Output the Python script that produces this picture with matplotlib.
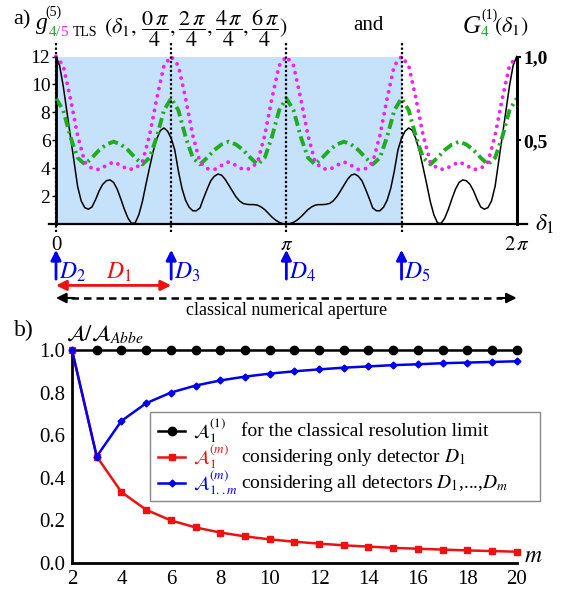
import numpy as np
import matplotlib.pyplot as plt
from matplotlib.patches import Rectangle
from matplotlib.lines import Line2D

plt.rcParams['font.family'] = ['Liberation Serif', 'DejaVu Serif']
plt.rcParams['mathtext.fontset'] = 'stix'

# ---- panel a ----
# black curve read every pi/64, pink and green every pi/32, from 0 to 2 pi
g5_black = [12, 11.35, 9.9, 8.1, 6.3, 4.5, 2.7, 1.65, 1.17, 1.06, 1.22, 1.75, 2.38, 2.85, 3.1, 3.16,
            2.98, 2.5, 1.8, 1.05, 0.42, 0.04, 0.08, 0.65, 1.6, 2.85, 4.05, 5.2, 6.1, 6.7, 6.88, 6.65,
            6.15, 5.3, 3.8, 2.55, 1.7, 1.2, 0.95, 0.95, 1.15, 1.85, 2.5, 3.1, 3.42, 3.58, 3.5, 3.2,
            2.78, 2.35, 1.95, 1.65, 1.47, 1.41, 1.39, 1.39, 1.35, 1.22, 1.03, 0.77, 0.5, 0.28, 0.12, 0.03,
            0.0,
            0.03, 0.12, 0.28, 0.5, 0.77, 1.03, 1.22, 1.35, 1.39, 1.39, 1.41, 1.47, 1.65, 1.95, 2.35, 2.78,
            3.2, 3.5, 3.58, 3.42, 3.1, 2.5, 1.85, 1.15, 0.95, 0.95, 1.2, 1.7, 2.55, 3.8, 5.3, 6.15,
            6.65, 6.88, 6.7, 6.1, 5.2, 4.05, 2.85, 1.6, 0.65, 0.08, 0.04, 0.42, 1.05, 1.8, 2.5, 2.98,
            3.16, 3.1, 2.85, 2.38, 1.75, 1.22, 1.06, 1.17, 1.65, 2.7, 4.5, 6.3, 8.1, 9.9, 11.35, 12]
g5_pink = [12, 11.35, 9.0, 6.35, 4.43, 3.97, 3.9, 4.2, 4.45, 4.2, 3.9, 3.97, 4.43, 6.35, 9.0, 11.35,
           12, 11.35, 9.0, 6.35, 4.43, 3.97, 3.9, 4.2, 4.45, 4.2, 3.9, 3.97, 4.43, 6.35, 9.0, 11.35,
           12, 11.35, 9.0, 6.35, 4.43, 3.97, 3.9, 4.2, 4.45, 4.2, 3.9, 3.97, 4.43, 6.35, 9.0, 11.35,
           12, 11.35, 9.0, 6.35, 4.43, 3.97, 3.9, 4.2, 4.45, 4.2, 3.9, 3.97, 4.43, 6.35, 9.0, 11.35, 12]
g1_green = [9.0, 8.15, 6.25, 4.75, 4.27, 4.75, 5.3, 5.7, 5.9, 5.7, 5.3, 4.75, 4.27, 4.75, 6.25, 8.15,
            9.0, 8.15, 6.25, 4.75, 4.27, 4.75, 5.3, 5.7, 5.9, 5.7, 5.3, 4.75, 4.27, 4.75, 6.25, 8.15,
            9.0, 8.15, 6.25, 4.75, 4.27, 4.75, 5.3, 5.7, 5.9, 5.7, 5.3, 4.75, 4.27, 4.75, 6.25, 8.15,
            9.0, 8.15, 6.25, 4.75, 4.27, 4.75, 5.3, 5.7, 5.9, 5.7, 5.3, 4.75, 4.27, 4.75, 6.25, 8.15, 9.0]
delta_black = np.linspace(0, 2 * np.pi, len(g5_black))
delta = np.linspace(0, 2 * np.pi, len(g5_pink))

det_pos = [0, np.pi / 2, np.pi, 3 * np.pi / 2]
det_labels = [r'$D_2$', r'$D_3$', r'$D_4$', r'$D_5$']

# ---- panel b ----
m_vals = list(range(2, 21))
a_classical = [1.0] * 19
a_only_d1 = [1.0, 0.5, 0.333, 0.25, 0.2, 0.167, 0.143, 0.125, 0.111, 0.1, 0.091, 0.083,
             0.077, 0.071, 0.067, 0.063, 0.059, 0.056, 0.053]
a_all = [1.0, 0.5, 0.667, 0.75, 0.8, 0.833, 0.857, 0.875, 0.889, 0.9, 0.909, 0.917,
         0.923, 0.929, 0.933, 0.938, 0.941, 0.944, 0.947]

W, H = 574, 595
fig = plt.figure(figsize=(W / 100, H / 100), dpi=100)


def fxy(x, y):
    return x / W, 1 - y / H


PINK = '#ee22ee'
GREEN = '#22aa22'
BLUE = '#0000ee'
RED = '#ee1111'

ax = fig.add_axes([56 / W, 1 - 224 / H, 460.7 / W, 167.5 / H])
ax.fill_between([0, 1.5 * np.pi], 0, 12, color='#c6e2fa', lw=0, zorder=0)
ax.plot(delta_black, g5_black, color='k', lw=1.1, clip_on=False, zorder=3)
ax.plot(delta, g1_green, color=GREEN, lw=2.8, ls=(0, (2.6, 1.1, 0.6, 1.1)), clip_on=False, zorder=4)
ax.plot(delta, g5_pink, color=PINK, lw=2.8, ls=(0, (0.01, 1.9)), dash_capstyle='round',
        clip_on=False, zorder=5)
for x in det_pos:
    ax.plot([x, x], [-0.6, 13.1], color='k', lw=1.6, ls=(0, (1, 1)), clip_on=False, zorder=6)

ax.set_xlim(0, 2 * np.pi)
ax.set_ylim(0, 12)
ax.set_facecolor('none')
for s in ['top', 'bottom']:
    ax.spines[s].set_visible(False)
ax.spines['left'].set_linewidth(2)
ax.spines['right'].set_linewidth(2)
ax.plot([-0.1, 2 * np.pi + 0.14], [0, 0], color='k', lw=1.6, clip_on=False, zorder=7)
ax.set_yticks([2, 4, 6, 8, 10, 12])
ax.tick_params(axis='y', labelsize=14, length=3, width=1, pad=1)
ax.set_xticks([0, np.pi, 2 * np.pi])
ax.set_xticklabels(['0', r'$\pi$', r'$2\,\pi$'])
ax.tick_params(axis='x', labelsize=15, length=0, pad=9)

ax2 = ax.twinx()
ax2.set_ylim(0, 1)
ax2.set_yticks([0.5, 1.0])
ax2.set_yticklabels(['0,5', '1,0'], fontweight='bold')
ax2.tick_params(axis='y', labelsize=14, length=3, width=1.5, pad=2)
for s in ['top', 'bottom', 'left']:
    ax2.spines[s].set_visible(False)
ax2.spines['right'].set_linewidth(2)

ax.text(2 * np.pi + 0.25, 0.0, r'$\delta_1$', fontsize=17, va='center', ha='left')

# detector arrows
for x, lab in zip(det_pos, det_labels):
    ax.annotate('', xy=(x, -1.85), xytext=(x, -3.95), annotation_clip=False,
                arrowprops=dict(arrowstyle='-|>', color=BLUE, lw=2, mutation_scale=15,
                                shrinkA=0, shrinkB=0))
    ax.text(x + 0.04, -3.45, lab, color=BLUE, fontsize=17, va='center', ha='left')
ax.annotate('', xy=(0, -4.4), xytext=(np.pi / 2, -4.4), annotation_clip=False,
            arrowprops=dict(arrowstyle='<|-|>', color=RED, lw=2, mutation_scale=15,
                            shrinkA=0, shrinkB=0))
ax.text(0.86, -3.45, r'$D_1$', color=RED, fontsize=17, va='center', ha='center')
ax.plot([0.2, 2 * np.pi - 0.2], [-5.3, -5.3], color='k', lw=1.8, ls=(0, (3, 2)), clip_on=False)
for x0, x1 in [(0.25, 0), (2 * np.pi - 0.25, 2 * np.pi)]:
    ax.annotate('', xy=(x1, -5.3), xytext=(x0, -5.3), annotation_clip=False,
                arrowprops=dict(arrowstyle='-|>', color='k', lw=1.5, mutation_scale=15,
                                shrinkA=0, shrinkB=0))
ax.text(np.pi, -6.2, 'classical numerical aperture', fontsize=13, ha='center', va='center')

# title row
fig.text(*fxy(13, 20), 'a)', fontsize=16, va='center')
fig.text(*fxy(36, 29), 'g', fontsize=17, fontstyle='italic', va='baseline')
fig.text(*fxy(45, 12), '(5)', fontsize=10, va='center')
fig.text(*fxy(49, 32), '4', fontsize=11, va='center', color=GREEN)
fig.text(*fxy(56, 32), '/', fontsize=11, va='center', color='#777777')
fig.text(*fxy(60, 32), '5', fontsize=11, va='center', color=PINK)
fig.text(*fxy(73, 32), 'TLS', fontsize=10, va='center')
fig.text(*fxy(104, 28.5),
         r'$(\delta_1,\,\dfrac{0\,\pi}{4},\dfrac{2\,\pi}{4},\dfrac{4\,\pi}{4},\dfrac{6\,\pi}{4})$',
         fontsize=16, va='center')
fig.text(*fxy(368, 25), 'and', fontsize=15, va='center', ha='center')
fig.text(*fxy(463, 33), 'G', fontsize=18, fontstyle='italic', va='baseline')
fig.text(*fxy(481, 15), '(1)', fontsize=10, va='center')
fig.text(*fxy(481, 33), '4', fontsize=11, va='center', color=GREEN)
fig.text(*fxy(494, 27), r'$(\delta_1)$', fontsize=16, va='center')

# ---- panel b ----
bx = fig.add_axes([72 / W, 1 - 563 / H, 444.7 / W, 213 / H])
bx.plot(m_vals, a_classical, color='k', lw=1.8, marker='o', ms=6, markevery=list(range(1, 19)),
        clip_on=False, zorder=3)
bx.plot(m_vals, a_only_d1, color=RED, lw=1.8, marker='s', ms=4, clip_on=False, zorder=4)
bx.plot(m_vals, a_all, color=BLUE, lw=1.8, marker='D', ms=3.5, clip_on=False, zorder=5)
bx.set_xlim(2, 20)
bx.set_ylim(0, 1)
bx.set_xticks(range(2, 21, 2))
bx.set_yticks([0.0, 0.2, 0.4, 0.6, 0.8, 1.0])
bx.set_yticklabels(['0.0', '0.2', '0.4', '0.6', '0.8', '1.0'])
bx.tick_params(labelsize=15, length=0, pad=5)
for s in ['top', 'right']:
    bx.spines[s].set_visible(False)
for s in ['left', 'bottom']:
    bx.spines[s].set_linewidth(2)

fig.text(*fxy(14, 330), 'b)', fontsize=17, va='center')
fig.text(*fxy(66, 334), r'$\mathcal{A}/\mathcal{A}_{Abbe}$', fontsize=16, va='center')
fig.text(*fxy(524, 556), r'$m$', fontsize=17, va='center')

# legend box
fig.add_artist(Rectangle(fxy(150, 501), 390 / W, 89 / H, transform=fig.transFigure,
                         facecolor='white', edgecolor='#888888', lw=1, zorder=8))
rows = [(431, 'k', 'o', 6, r'$\mathcal{A}_1^{(1)}$', 'for the classical resolution limit'),
        (457, RED, 's', 4, r'$\mathcal{A}_1^{(m)}$', r'considering only detector $D_1$'),
        (483, BLUE, 'D', 3.5, r'$\mathcal{A}_{1..m}^{(m)}$',
         r'considering all detectors $D_1$,...,$D_m$')]
for y, c, mk, ms, sym, desc in rows:
    fx0, fy0 = fxy(158, y)
    fx1, _ = fxy(185, y)
    fig.add_artist(Line2D([fx0, fx1], [fy0, fy0], transform=fig.transFigure, color=c, lw=1.8,
                          zorder=9))
    fig.add_artist(Line2D([(fx0 + fx1) / 2], [fy0], transform=fig.transFigure, color=c,
                          marker=mk, ms=ms, zorder=9))
    fig.text(*fxy(193, y), sym, fontsize=13.5, va='center', color=c, zorder=9)
    fig.text(*fxy(241, y), desc, fontsize=14, va='center', zorder=9)

fig.savefig('out.png', dpi=100)
